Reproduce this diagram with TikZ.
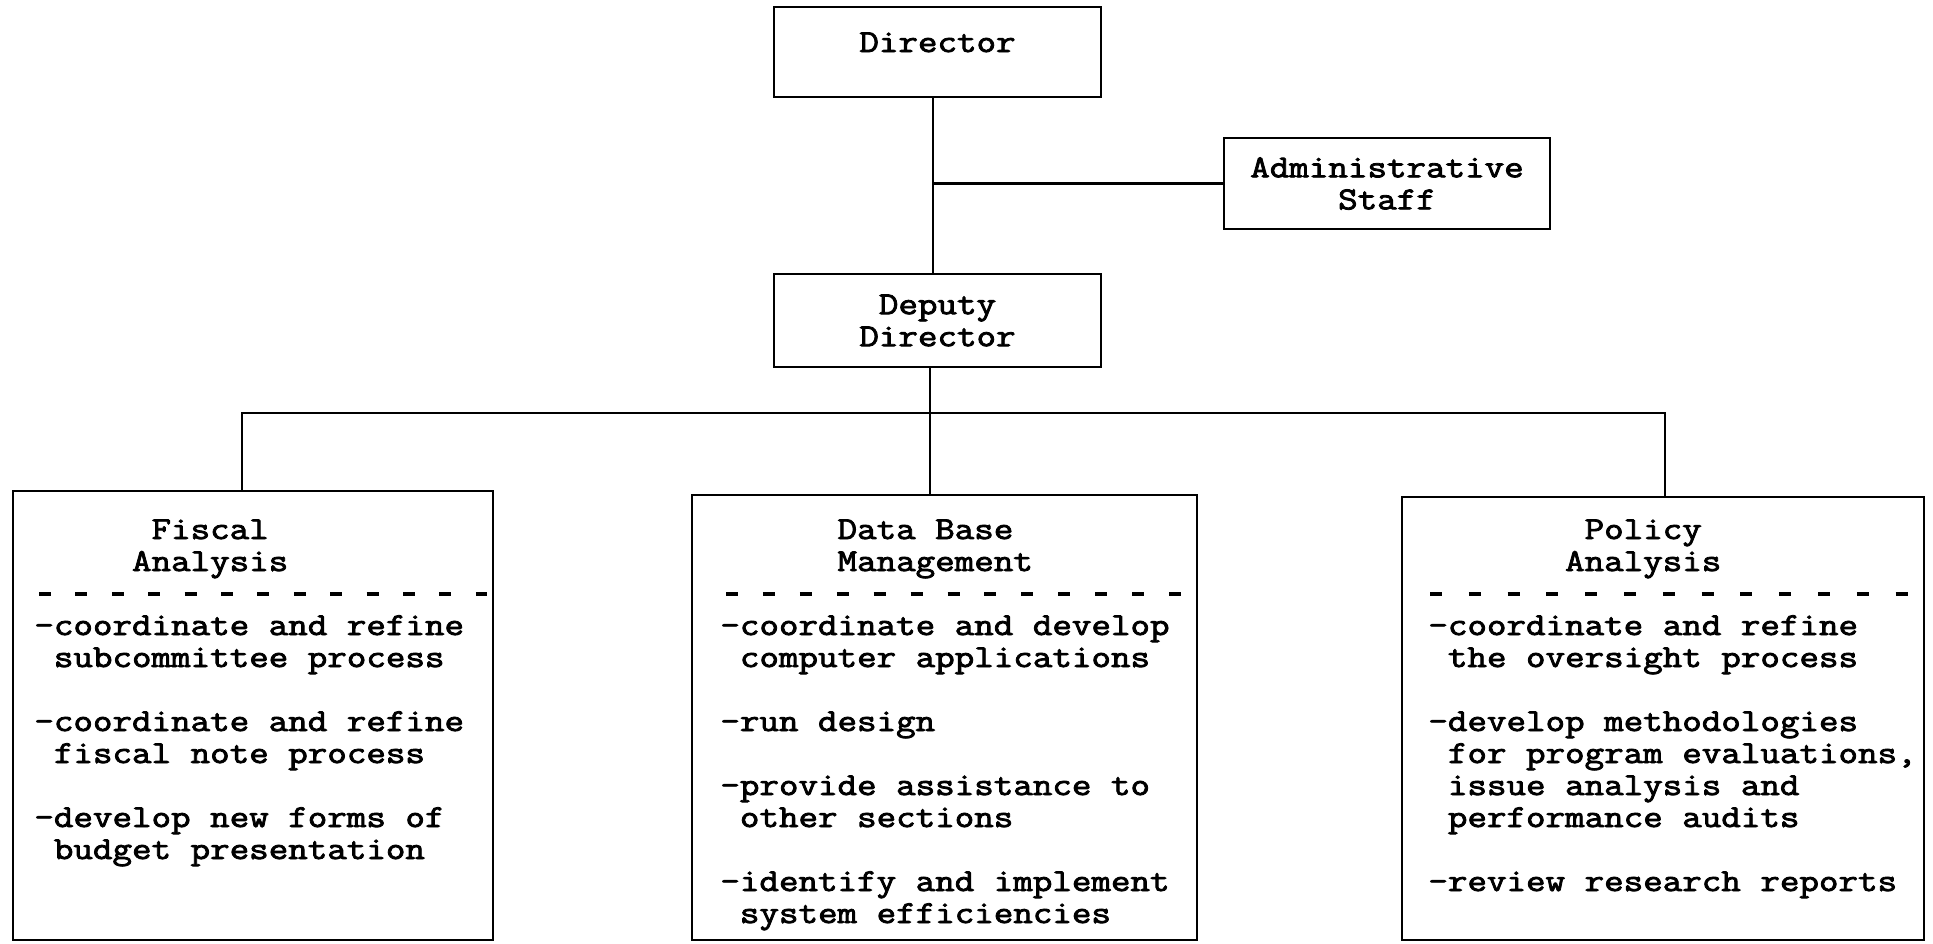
\documentclass[tikz,border=0pt]{standalone}
\usepackage{fontspec}
\newfontfamily\tw{Latin Modern Mono}[FakeStretch=1.185, FakeBold=2.6]
\newcommand\twfont{\tw\fontsize{16}{16}\selectfont}
\newcommand\fixsp{\spaceskip=\fontcharwd\font`\x\relax\xspaceskip=\spaceskip}
\begin{document}
\begin{tikzpicture}[x=0.5pt,y=-0.5pt,
  txt/.style={font=\twfont},
  box/.style={draw, line width=1.4pt, inner sep=0pt, align=center, txt},
  panel/.style={draw, line width=1.4pt, inner sep=0pt},
  body/.style={anchor=base west, inner sep=0pt, text width=300pt, align=left, txt},
  link/.style={line width=1.1pt},
  sepline/.style={line width=1.7pt, dash pattern=on 6pt off 12.2pt}]
\useasboundingbox (0,0) rectangle (1933,943);
% top boxes
\node[box, minimum width=163.5pt, minimum height=45pt, text height=10pt, text depth=10pt] (dir) at (937.5,52) {Director};
\node[box, minimum width=163pt, minimum height=45.5pt] (adm) at (1387,183.5) {Administrative\\Staff};
\node[box, minimum width=163.5pt, minimum height=46.5pt] (dep) at (937.5,320.5) {Deputy\\Director};
% panels
\node[panel, minimum width=240pt, minimum height=224.5pt] (fisc) at (253,715.5) {};
\node[panel, minimum width=252.5pt, minimum height=222.5pt] (data) at (944.5,717.5) {};
\node[panel, minimum width=261pt, minimum height=221.5pt] (pol) at (1663,718.5) {};
% panel texts
\node[body] (fisct) at (34,539) {\fixsp\hphantom{xxxxxx}Fiscal\\
\hphantom{xxxxx}Analysis\\[16pt]
-coordinate and refine\\
\hphantom{x}subcommittee process\\[16pt]
-coordinate and refine\\
\hphantom{x}fiscal note process\\[16pt]
-develop new forms of\\
\hphantom{x}budget presentation};
\node[body] (datat) at (720,539) {\fixsp\hphantom{xxxxxx}Data Base\\
\hphantom{xxxxxx}Management\\[16pt]
-coordinate and develop\\
\hphantom{x}computer applications\\[16pt]
-run design\\[16pt]
-provide assistance to\\
\hphantom{x}other sections\\[16pt]
-identify and implement\\
\hphantom{x}system efficiencies};
\node[body] (polt) at (1428,539) {\fixsp\hphantom{xxxxxxxx}Policy\\
\hphantom{xxxxxxx}Analysis\\[16pt]
-coordinate and refine\\
\hphantom{x}the oversight process\\[16pt]
-develop methodologies\\
\hphantom{x}for program evaluations,\\
\hphantom{x}issue analysis and\\
\hphantom{x}performance audits\\[16pt]
-review research reports};
% dashed separators
\draw[sepline] (39,594) -- (487,594);
\draw[sepline, dash pattern=on 6pt off 12.46pt] (726,594) -- (1181,594);
\draw[sepline, dash pattern=on 6pt off 13.4pt] (1430,594) -- (1908,594);
% connectors
\coordinate (tr) at (933,0);
\draw[link] (tr |- dir.south) -- (tr |- dep.north);
\draw[link] (adm.west) -- (adm.west -| tr);
\coordinate (dv) at (930,0);
\draw[link] (dv |- dep.south) -- (dv |- data.north);
\coordinate (bl) at (242,413);
\coordinate (br) at (1665,413);
\draw[link] (fisc.north -| bl) -- (bl) -- (br) -- (br |- pol.north);
\end{tikzpicture}
\end{document}
